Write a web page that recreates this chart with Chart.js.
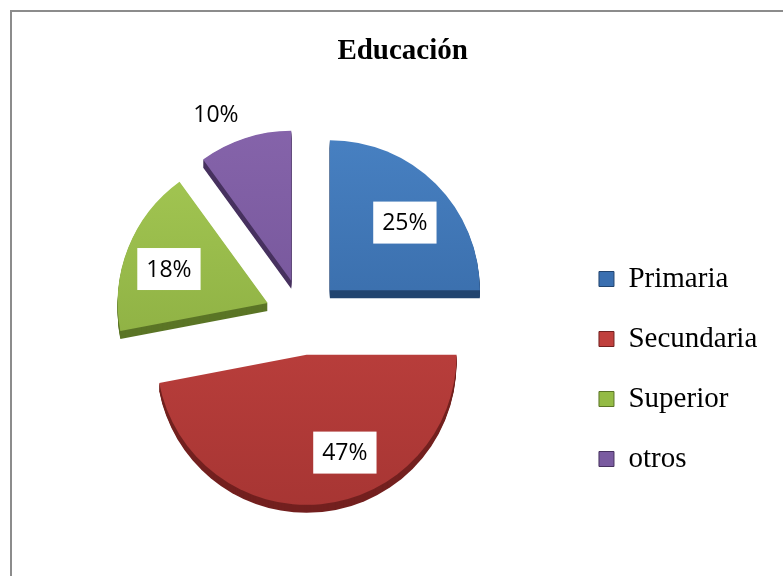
<!DOCTYPE html>
<html>
<head>
<meta charset="utf-8">
<script src="https://cdn.jsdelivr.net/npm/chart.js@4.4.0/dist/chart.umd.min.js"></script>
<style>
  html, body { margin: 0; padding: 0; background: #ffffff; }
  #wrap { position: relative; width: 783px; height: 576px; overflow: hidden; }
  #frame { position: absolute; left: 10px; top: 10px; width: 820px; height: 620px;
           border-left: 2px solid #8c8c8c; border-top: 2px solid #8c8c8c; }
  canvas { position: absolute; left: 0; top: 0; }
</style>
</head>
<body>
<div id="wrap">
  <div id="frame"></div>
  <canvas id="c" width="783" height="576"></canvas>
</div>
<script>
// ---- data ----
const chartTitle = 'Educación';
const categories = ['Primaria', 'Secundaria', 'Superior', 'otros'];
const values = [25, 47, 18, 10];
const percentLabels = values.map(v => v + '%');

// ---- styles ----
const lightColors = ['#4a84c6', '#cc4744', '#a8cc56', '#8866ad'];
const darkColors  = ['#2d5c96', '#a23331', '#7e9f38', '#6a4c8e'];
const legendColors = ['#3a6fb0', '#c0403d', '#94bb45', '#7a5ba0'];
const sideColors  = ['#22446f', '#73201f', '#5b7526', '#47315f'];
const labelRadius = [0.673, 0.70, 0.696, 1.22];
const labelAngleNudge = [3, -16, -2.6, -6.3];
const labelBoxed = [true, true, true, false];
const EXPLODE = 38;
const DEPTH = 8;

function faceGradient(c) {
  const i = c.dataIndex;
  const chart = c.chart;
  const a = chart.chartArea;
  if (i === undefined) return legendColors[0];
  if (!a) return legendColors[i];
  const cy = (a.top + a.bottom) / 2;
  const g = chart.ctx.createLinearGradient(0, cy - 190, 0, cy + 200);
  g.addColorStop(0, lightColors[i]);
  g.addColorStop(1, darkColors[i]);
  return g;
}

const explodePlugin = {
  id: 'explode3d',
  beforeDatasetDraw(chart, args) {
    const ctx = chart.ctx;
    const arcs = args.meta.data;
    arcs.forEach((arc, i) => {
      const mid = (arc.startAngle + arc.endAngle) / 2;
      const ox = Math.cos(mid) * EXPLODE, oy = Math.sin(mid) * EXPLODE;
      ctx.save();
      ctx.fillStyle = sideColors[i];
      for (let k = DEPTH; k >= 1; k--) {
        ctx.beginPath();
        ctx.moveTo(arc.x + ox, arc.y + oy + k);
        ctx.arc(arc.x + ox, arc.y + oy + k, arc.outerRadius, arc.startAngle, arc.endAngle);
        ctx.closePath();
        ctx.fill();
      }
      ctx.restore();
    });
    arcs.forEach((arc) => {
      const mid = (arc.startAngle + arc.endAngle) / 2;
      ctx.save();
      ctx.translate(Math.cos(mid) * EXPLODE, Math.sin(mid) * EXPLODE);
      arc.draw(ctx);
      ctx.restore();
    });
    return false;
  }
};

const labelPlugin = {
  id: 'pctLabels',
  afterDatasetsDraw(chart) {
    const ctx = chart.ctx;
    const arcs = chart.getDatasetMeta(0).data;
    ctx.save();
    ctx.font = '23px "Open Sans"';
    ctx.textAlign = 'center';
    ctx.textBaseline = 'middle';
    arcs.forEach((arc, i) => {
      const mid = (arc.startAngle + arc.endAngle) / 2;
      const ax = arc.x + Math.cos(mid) * EXPLODE;
      const ay = arc.y + Math.sin(mid) * EXPLODE;
      const a = mid + labelAngleNudge[i] * Math.PI / 180;
      const d = arc.outerRadius * labelRadius[i];
      const x = ax + Math.cos(a) * d, y = ay + Math.sin(a) * d;
      const txt = percentLabels[i];
      if (labelBoxed[i]) {
        const w = ctx.measureText(txt).width + 18;
        ctx.fillStyle = '#ffffff';
        ctx.fillRect(x - w / 2, y - 21, w, 42);
      }
      ctx.fillStyle = '#000000';
      ctx.fillText(txt, x, y + 1);
    });
    ctx.restore();
  }
};

new Chart(document.getElementById('c'), {
  type: 'pie',
  data: {
    labels: categories,
    datasets: [{
      data: values,
      backgroundColor: faceGradient,
      borderWidth: 0,
      radius: 150
    }]
  },
  options: {
    responsive: false,
    animation: false,
    layout: { padding: { left: 38, right: 15.7, top: 0, bottom: 18 } },
    plugins: {
      title: {
        display: true,
        text: chartTitle,
        color: '#000000',
        font: { family: 'Liberation Serif', size: 29, weight: 'bold', lineHeight: 1.2 },
        padding: { top: 34, bottom: 7.2 }
      },
      legend: {
        display: true,
        position: 'right',
        align: 'center',
        title: { display: true, text: ' ', padding: 82.8, font: { size: 12, lineHeight: 1.2 } },
        labels: {
          boxWidth: 15,
          boxHeight: 15,
          padding: 31,
          color: '#000000',
          font: { family: 'Liberation Serif', size: 29 },
          generateLabels: (chart) => chart.data.labels.map((text, i) => ({
            text,
            fillStyle: legendColors[i],
            strokeStyle: sideColors[i],
            lineWidth: 1,
            hidden: false,
            index: i,
            fontColor: '#000000'
          }))
        }
      },
      tooltip: { enabled: false }
    }
  },
  plugins: [explodePlugin, labelPlugin]
});
</script>
</body>
</html>
